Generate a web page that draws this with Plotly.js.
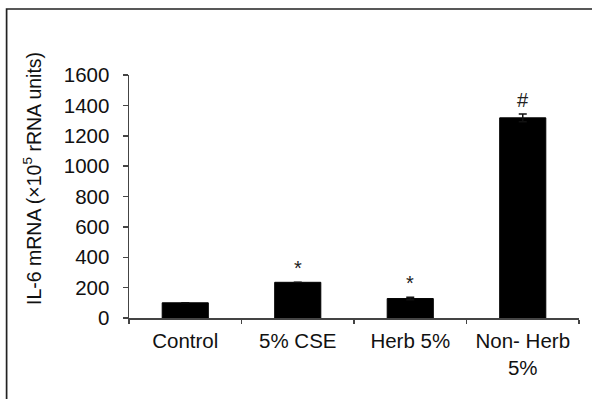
<!DOCTYPE html>
<html>
<head>
<meta charset="utf-8">
<script src="https://cdn.plot.ly/plotly-3.0.1.min.js"></script>
<style>
html,body{margin:0;padding:0;background:#fff;}
#chart{width:592px;height:399px;}
</style>
</head>
<body>
<div id="chart"></div>
<script>
const categories = ["Control", "5% CSE", "Herb 5%", "Non- Herb<br>5%"];
const values = [100, 235, 128, 1318];
const errors = [0, 0, 8, 25];
const sigMarks = ["", "*", "*", "#"];
const yTicks = [0, 200, 400, 600, 800, 1000, 1200, 1400, 1600];
const yTitle = "IL-6 mRNA (×10<sup>5</sup> rRNA units)";

const FONT = "Liberation Sans, Arial, sans-serif";

const trace = {
  type: "bar",
  x: categories,
  y: values,
  marker: {color: "#000000", line: {color: "#000000", width: 1}},
  error_y: {type: "data", array: errors, visible: true, color: "#111111", thickness: 1.5, width: 4},
  hoverinfo: "skip"
};

const annotations = [];
categories.forEach((c, i) => {
  if (sigMarks[i]) {
    annotations.push({
      x: c, y: values[i] + errors[i], xref: "x", yref: "y",
      text: sigMarks[i], showarrow: false, yanchor: "bottom", yshift: 1,
      font: {family: FONT, size: 20, color: "#222"}
    });
  }
});
annotations.push({
  x: -0.214, y: 0.575, xref: "paper", yref: "paper",
  text: yTitle, showarrow: false, textangle: -90,
  xanchor: "center", yanchor: "middle",
  font: {family: FONT, size: 19.5, color: "#111"}
});

const layout = {
  width: 592, height: 399,
  margin: {l: 129, r: 13, t: 75, b: 81, pad: 0},
  paper_bgcolor: "#ffffff", plot_bgcolor: "#ffffff",
  showlegend: false,
  bargap: 0.59,
  font: {family: FONT, size: 20, color: "#111"},
  xaxis: {
    type: "category",
    showline: true, linecolor: "#444", linewidth: 1.5,
    ticks: "outside", ticklen: 4, tickwidth: 1.5, tickcolor: "#444",
    tickson: "boundaries",
    ticklabelstandoff: 4,
    showgrid: false, zeroline: false,
    tickfont: {family: FONT, size: 20.5, color: "#111"}
  },
  yaxis: {
    range: [0, 1600],
    tickvals: yTicks,
    ticktext: yTicks.map(String),
    showline: true, linecolor: "#444", linewidth: 1.5,
    ticks: "outside", ticklen: 5, tickwidth: 1.5, tickcolor: "#444",
    ticklabelstandoff: 9,
    showgrid: false, zeroline: false,
    tickfont: {family: FONT, size: 20.5, color: "#111"}
  },
  annotations: annotations,
  shapes: [{
    type: "rect", xref: "paper", yref: "paper",
    x0: -0.272, x1: 1.06, y0: -0.40, y1: 1.2716,
    line: {color: "#222", width: 1.7}, fillcolor: "rgba(0,0,0,0)", layer: "below"
  }]
};

Plotly.newPlot("chart", [trace], layout, {displayModeBar: false, staticPlot: true});
</script>
</body>
</html>
